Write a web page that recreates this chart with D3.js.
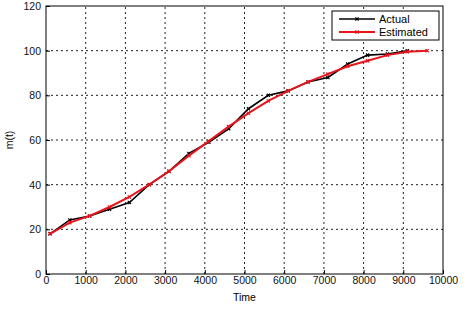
<!DOCTYPE html>
<html><head><meta charset="utf-8">
<script src="https://cdn.jsdelivr.net/npm/d3@7"></script>
<style>body{margin:0;background:#fff}svg{display:block}text{font-family:"Liberation Sans",Arial,sans-serif}</style>
</head><body>
<script>
const times = [100,600,1100,1600,2100,2600,3100,3600,4100,4600,5100,5600,6100,6600,7100,7600,8100,8600,9100,9600];
const actual = [18,24.2,26,29,32,40,46,54,59,65,74,80,82,86,88,94,98,98.5,100,null];
const estimated = [18,23,26,30,34.5,40,46,53,59.5,66,72,77.5,82,86,89.5,93,95.5,98,99.5,100];
const xTicks = [0,1000,2000,3000,4000,5000,6000,7000,8000,9000,10000];
const yTicks = [0,20,40,60,80,100,120];
const seriesNames = ["Actual","Estimated"];

const W=468,H=309;
const svg=d3.select("body").append("svg").attr("width",W).attr("height",H);
const x=d3.scaleLinear().domain([0,10000]).range([46,443]);
const y=d3.scaleLinear().domain([0,120]).range([274,6]);

// grid
svg.append("g").selectAll("line").data(xTicks.slice(1,-1)).join("line")
 .attr("x1",d=>x(d)).attr("x2",d=>x(d)).attr("y1",y(0)).attr("y2",y(120))
 .attr("stroke","#222").attr("stroke-width",1).attr("stroke-dasharray","2,3");
svg.append("g").selectAll("line").data(yTicks.slice(1,-1)).join("line")
 .attr("y1",d=>y(d)).attr("y2",d=>y(d)).attr("x1",x(0)).attr("x2",x(10000))
 .attr("stroke","#222").attr("stroke-width",1).attr("stroke-dasharray","2,3");

// axes
const xa=svg.append("g").attr("transform",`translate(0,${y(0)})`)
 .call(d3.axisBottom(x).tickValues(xTicks).tickSize(-4).tickPadding(3).tickFormat(d3.format("d")));
const ya=svg.append("g").attr("transform",`translate(${x(0)},0)`)
 .call(d3.axisLeft(y).tickValues(yTicks).tickSize(-4).tickPadding(5).tickFormat(d3.format("d")));
[xa,ya].forEach(a=>{a.selectAll("text").attr("font-size",10.5).attr("fill","#111");a.select(".domain").remove();a.selectAll("line").attr("stroke","#000");});
// box
svg.append("rect").attr("x",x(0)).attr("y",y(120)).attr("width",x(10000)-x(0)).attr("height",y(0)-y(120))
 .attr("fill","none").attr("stroke","#000").attr("stroke-width",1);

svg.append("text").attr("x",(x(0)+x(10000))/2).attr("y",301).attr("text-anchor","middle").attr("font-size",10.5).text("Time");
svg.append("text").attr("transform",`translate(13,${(y(0)+y(120))/2}) rotate(-90)`).attr("text-anchor","middle").attr("font-size",10.5).text("m(t)");

const line=d3.line().defined(d=>d[1]!=null).x(d=>x(d[0])).y(d=>y(d[1]));
const actPts=times.map((t,i)=>[t,actual[i]]);
const estPts=times.map((t,i)=>[t,estimated[i]]);

function xMark(g,pts,color,s){
  g.selectAll("path.m").data(pts.filter(d=>d[1]!=null)).join("path").attr("class","m")
   .attr("d",d=>{const cx=x(d[0]),cy=y(d[1]);return `M${cx-s},${cy-s}L${cx+s},${cy+s}M${cx-s},${cy+s}L${cx+s},${cy-s}`;})
   .attr("stroke",color).attr("stroke-width",1.2);
}
const ga=svg.append("g");
ga.append("path").datum(actPts).attr("d",line).attr("fill","none").attr("stroke","#000").attr("stroke-width",1.6);
xMark(ga,actPts,"#000",1.6);
const ge=svg.append("g");
ge.append("path").datum(estPts).attr("d",line).attr("fill","none").attr("stroke","#e8141c").attr("stroke-width",2);
xMark(ge,estPts,"#e8141c",1.6);

// legend
const lg=svg.append("g");
lg.append("rect").attr("x",332).attr("y",11).attr("width",107).attr("height",29).attr("fill","#fff").attr("stroke","#000");
const colors=["#000","#e8141c"];
seriesNames.forEach((n,i)=>{
  const yy=19+i*13;
  lg.append("line").attr("x1",339).attr("x2",375).attr("y1",yy).attr("y2",yy).attr("stroke",colors[i]).attr("stroke-width",i?2:1.6);
  lg.append("path").attr("d",`M355.4,${yy-1.6}L358.6,${yy+1.6}M355.4,${yy+1.6}L358.6,${yy-1.6}`).attr("stroke",colors[i]).attr("stroke-width",1.2);
  lg.append("text").attr("x",379).attr("y",yy+4).attr("font-size",11).text(n);
});
</script>
</body></html>
